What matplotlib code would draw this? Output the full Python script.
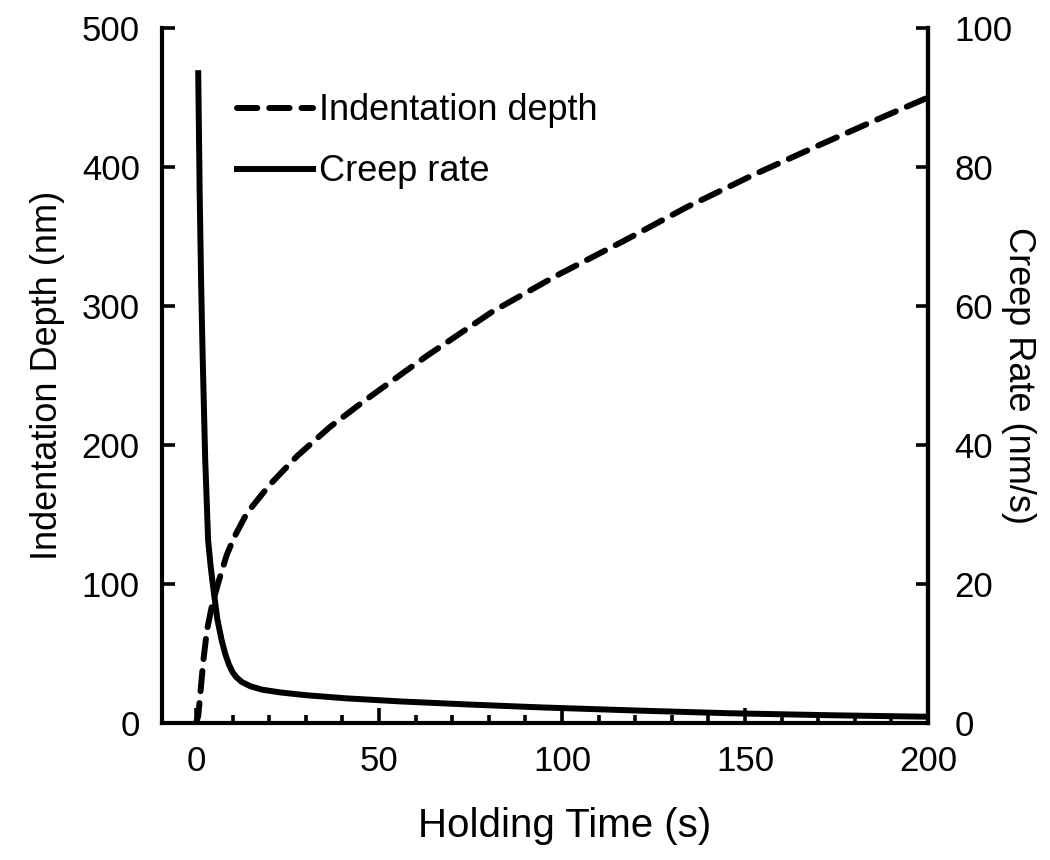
#!/usr/bin/env python3
import matplotlib
matplotlib.use('Agg')
import matplotlib.pyplot as plt
from matplotlib.ticker import MultipleLocator

# holding time (s) vs indentation depth (nm)
t_depth = [0, 0.6, 1.2, 2.0, 3.0, 4.4, 6.3, 8.4, 10.5, 13.9, 20, 27.6, 36.6,
           45.6, 54, 63, 81, 98.6, 117, 134, 152, 170.5, 187.7, 200]
depth = [0, 5, 22, 45, 67, 85, 103, 121, 134, 151, 171, 192, 213,
         231, 247, 264, 296, 322, 347, 371, 394, 416, 436, 450]

# holding time (s) vs creep rate (nm/s)
t_creep = [0.6, 1.0, 1.4, 1.8, 2.5, 3.3, 4.0, 4.6, 5.8, 7.0, 8.0, 9.0, 10.0,
           11.0, 12.5, 14.8, 18, 23, 30, 41, 56, 75, 94, 120, 146, 175, 200]
creep = [93.5, 76, 63, 53, 38, 26.3, 22.5, 19.9, 15, 11.9, 9.9, 8.4, 7.3,
         6.6, 5.9, 5.3, 4.8, 4.4, 4.0, 3.55, 3.1, 2.65, 2.25, 1.8, 1.4, 1.1,
         0.9]

plt.rcParams['font.family'] = ['Liberation Sans', 'DejaVu Sans']


def main():
    fig = plt.figure(figsize=(10.5, 8.6), dpi=100)
    ax = fig.add_axes([162 / 1050, 1 - 723 / 860, 766 / 1050, 695 / 860])
    ax2 = ax.twinx()

    l1, = ax.plot(t_depth, depth, color='black', lw=4.3, dashes=(3.4, 2.0),
                  dash_capstyle='round', label='Indentation depth')
    l2, = ax2.plot(t_creep, creep, color='black', lw=4.3,
                   solid_joinstyle='round', label='Creep rate')

    ax.set_xlim(-9.3, 200)
    ax.set_ylim(0, 500)
    ax2.set_ylim(0, 100)
    ax.xaxis.set_major_locator(MultipleLocator(50))
    ax.xaxis.set_minor_locator(MultipleLocator(10))
    ax.yaxis.set_major_locator(MultipleLocator(100))
    ax2.yaxis.set_major_locator(MultipleLocator(20))

    for a in (ax, ax2):
        a.spines['top'].set_visible(False)
        for s in ('left', 'right', 'bottom'):
            a.spines[s].set_linewidth(3.0)
    ax2.spines['left'].set_visible(False)
    ax2.spines['bottom'].set_visible(False)

    ax.tick_params(axis='x', which='major', direction='in', length=11,
                   width=2.6, labelsize=25, pad=16)
    ax.tick_params(axis='x', which='minor', direction='in', length=6,
                   width=2.6)
    ax.tick_params(axis='y', direction='in', length=9, width=2.6,
                   labelsize=25, pad=16)
    ax2.tick_params(axis='y', direction='in', length=9, width=2.6,
                    labelsize=25, pad=19)

    ax.set_xlabel('Holding Time (s)', fontsize=29, va='center')
    ax.xaxis.set_label_coords(0.526, -0.148)
    ax.set_ylabel('Indentation Depth (nm)', fontsize=26, labelpad=12)
    ax2.set_ylabel('Creep Rate (nm/s)', fontsize=26, rotation=-90,
                   va='center', ha='center')
    ax2.yaxis.set_label_coords(1.1175, 0.5)

    ax2.legend([l1, l2], ['Indentation depth', 'Creep rate'],
               loc='upper left', bbox_to_anchor=(0.056, 0.953),
               frameon=False, fontsize=26, handlelength=2.1,
               handletextpad=0.15, labelspacing=0.72)

    fig.savefig('out.png', dpi=100)


if __name__ == '__main__':
    main()
